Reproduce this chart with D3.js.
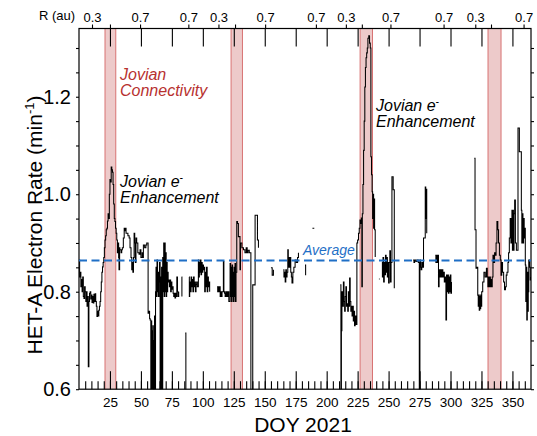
<!DOCTYPE html>
<html>
<head>
<meta charset="utf-8">
<script src="https://cdn.jsdelivr.net/npm/d3@7"></script>
<style>
  html, body { margin: 0; padding: 0; background: #fff; }
  svg { display: block; font-family: Helvetica, Arial, "Liberation Sans", sans-serif; }
</style>
</head>
<body>
<svg id="chart" width="537" height="436"></svg>
<script>
// HET-A electron count rate, PSP 2021 (DOY, min^-1); null marks a data gap.
const hetRate = [
  [0,0.865],[0.5,0.83],[1,0.84],[1.5,0.81],[2,0.825],[2.5,0.80],[3,0.83],[3.5,0.79],[4,0.786],[4.5,0.81],
  [5,0.80],[5.5,0.78],[6,0.80],[6.5,0.77],[7,0.79],[7.5,0.646],[8,0.78],[8.5,0.797],[9,0.80],[9.5,0.785],
  [10,0.793],[10.5,0.778],[11,0.79],[11.5,0.777],[12,0.795],[12.5,0.78],[13,0.796],[13.5,0.78],[14,0.77],[14.5,0.749],
  [15,0.76],[15.5,0.75],[16,0.762],[16.5,0.77],[17,0.78],[17.5,0.80],[18,0.82],[18.5,0.84],[19,0.851],[19.5,0.86],
  [20,0.87],[20.5,0.89],[21,0.906],[21.5,0.915],[22,0.927],[22.5,0.93],[23,0.945],[23.5,0.96],[24,0.95],[24.5,1.00],
  [25,1.03],[25.5,1.025],[26,1.056],[26.5,1.05],[27,1.045],[27.5,1.02],[28,0.98],[28.5,0.95],[29,0.944],[29.5,0.93],
  [30,0.92],[30.5,0.906],[31,0.88],[31.5,0.90],[32,0.87],[32.3,0.845],[32.8,0.89],[33,0.886],[34,0.88],[34.5,0.886],
  [35,0.89],[35.8,0.91],[36.5,0.93],[37,0.925],[37.5,0.93],[38,0.92],[38.5,0.92],[39.5,0.915],[40.5,0.91],[41.2,0.89],
  [42,0.87],[42.6,0.845],[43,0.86],[43.5,0.84],[44,0.87],[44.5,0.92],[45,0.90],[45.5,0.86],[46,0.91],[46.6,0.90],
  [47.5,0.88],[48.5,0.877],[49.3,0.886],[50,0.87],[51,0.88],[51.7,0.87],[52,0.896],[53,0.89],[54,0.896],[54.7,0.90],
  [55.8,0.756],[56.3,0.76],[57,0.745],[57.4,0.742],[58,0.55],[58.3,0.74],[58.7,0.55],[59,0.72],[59.3,0.55],[59.7,0.73],
  [60,0.55],[60.3,0.70],[60.7,0.55],[61,0.75],[61.4,0.55],[61.8,0.80],[62.2,0.85],[62.6,0.79],[63,0.865],[63.4,0.80],
  [63.8,0.84],[64.2,0.79],[64.6,0.82],[65,0.86],[65.5,0.55],[65.8,0.83],[66.2,0.55],[66.7,0.85],[67.2,0.55],[67.6,0.87],
  [68,0.80],[68.4,0.90],[68.8,0.79],[69.2,0.90],[69.6,0.80],[70,0.88],[70.4,0.79],[70.8,0.86],[71.2,0.80],[71.6,0.84],
  [72,0.82],[72.5,0.824],[73,0.81],[73.5,0.824],[74,0.80],[74.5,0.82],[75,0.805],[75.5,0.81],[76,0.797],[76.5,0.79],
  [77,0.797],[77.5,0.787],[78,0.797],[78.5,0.79],[79,0.83],[79.5,0.80],[80,0.79],[80.5,0.80],[81,null],
  [82.8,0.83],[83.1,0.79],[83.4,null],
  [85.8,0.715],[86.3,0.55],[86.6,null],
  [88.8,0.83],[89.1,0.79],[89.4,0.82],[90,0.80],[90.5,0.83],[91,0.81],[91.5,0.825],[92,0.80],[92.5,0.83],[93,0.81],
  [93.5,0.82],[94,0.80],[94.5,0.815],[95,0.82],[95.5,0.81],[96.4,0.865],[96.8,0.83],[97.2,0.86],[97.6,0.84],[98,0.865],
  [98.5,0.835],[99,0.86],[99.5,0.84],[100,0.855],[100.5,0.845],[101,0.85],[101.5,0.80],[102,0.84],[102.5,0.81],[103,0.85],
  [103.5,0.80],[104,0.83],[104.5,0.81],[105,0.82],[105.5,0.80],[106,null],
  [111.5,0.81],[112,0.80],[112.5,0.81],[113,0.80],[113.5,0.81],[114,0.79],[114.5,0.80],[115,0.79],[115.5,0.80],[116.6,0.862],
  [117,0.80],[117.5,0.797],[118,0.79],[118.5,0.80],[119,0.79],[119.5,0.80],[120,0.79],[120.5,0.80],[121,0.78],[122,0.858],
  [122.4,0.79],[122.8,0.85],[123.2,0.78],[123.6,0.855],[124,0.79],[124.4,0.84],[124.8,0.78],[125.2,0.85],[125.6,0.79],[126,0.858],
  [126.4,0.78],[126.8,0.84],[127.4,0.944],[128,0.94],[128.7,0.913],[130,0.845],[130.4,0.90],[131.5,0.89],[132.8,0.886],[134,0.88],
  [135,0.89],[135.8,0.88],[136.5,0.885],[137.5,0.88],[138.8,0.55],[140.3,0.814],[142.2,0.957],[144.1,0.906],[144.9,0.89],[146.5,null],
  [155,0.849],[156,0.834],[157,0.845],[158.3,null],
  [165,0.845],[165.5,0.83],[166,0.84],[166.5,0.82],[167,0.845],[167.5,0.83],[168,0.84],[168.6,0.886],[169,0.85],[169.5,0.87],
  [170,0.85],[170.5,0.87],[171,0.84],[171.5,0.83],[172,0.818],[172.7,0.84],[173.5,0.85],[174.5,0.865],[175.5,0.86],[176.5,0.87],
  [177.2,0.88],[177.8,null],
  [182.5,0.855],[183,0.834],[183.5,null],
  [188.5,0.93],[190,0.93],[190.5,null],
  [211,0.814],[211.5,0.55],[211.9,0.72],[212.3,0.80],[213,0.77],[213.5,0.82],[214,0.78],[214.5,0.76],[215,0.79],[215.5,0.81],
  [216,0.77],[216.5,0.775],[217,0.76],[217.5,0.80],[218,0.77],[218.5,0.828],[219,0.78],[219.5,0.76],[220,0.77],[220.5,0.75],
  [221,0.77],[221.5,0.74],[222,0.76],[222.5,0.73],[223,0.75],[223.8,0.733],[224.4,0.90],[225,0.906],[225.7,0.92],[226.3,0.93],
  [226.9,0.947],[227.5,0.94],[228,0.951],[228.4,0.81],[228.8,0.96],[229.3,1.02],[229.8,1.09],[230.3,1.15],[230.8,1.22],[231.3,1.26],
  [231.8,1.28],[232.3,1.29],[232.8,1.30],[233.3,1.32],[234,1.325],[234.6,1.31],[235.2,1.30],[235.7,1.077],[236.2,1.04],[236.7,1.005],
  [237.1,0.95],[237.5,1.00],[237.9,0.93],[238.3,0.99],[238.7,0.927],[239.2,0.871],[239.8,null],
  [242.2,0.826],[242.8,0.826],[243.1,null],
  [244.6,0.86],[245,0.83],[245.5,0.87],[246,0.82],[246.5,0.86],[247,0.835],[247.5,0.875],[248,0.84],[248.5,0.87],[249,0.83],
  [249.5,0.86],[250,0.818],[250.5,0.86],[251,0.884],[251.5,0.82],[252,0.86],[252.7,1.036],[253.7,1.009],[254.6,0.807],[255.2,null],
  [269.8,0.865],[270.5,0.86],[271,0.865],[272,0.862],[273,0.865],[274,0.86],[274.8,0.55],[275.3,0.865],[275.8,0.85],[276.3,0.845],
  [276.8,0.86],[277.5,0.85],[278.2,0.91],[279.6,1.015],[280,0.95],[280.4,1.01],[280.8,0.92],[282.3,null],
  [287.7,0.875],[288.2,0.86],[288.7,0.875],[289.2,0.86],[289.8,0.875],[290.3,0.81],[290.8,0.845],[291.5,0.83],[292,0.845],[292.6,0.83],
  [293.2,0.845],[293.8,0.83],[294.4,0.84],[295,0.82],[295.7,0.83],[296.3,0.742],[296.8,0.834],[297.3,0.80],[297.8,0.834],[298.3,0.797],
  [298.8,0.83],[299.3,0.80],[299.8,0.834],[300.3,0.797],[300.8,0.82],[301.2,null],
  [319.2,1.074],[319.8,0.927],[320.6,0.848],[321.4,0.85],[322,0.793],[322.4,0.77],[322.8,0.793],[323.2,0.762],[323.6,0.79],[324,0.765],
  [324.4,0.793],[324.8,0.77],[325.2,0.80],[326,0.82],[327,0.84],[328,0.83],[329,0.848],[329.7,0.83],[330.2,0.81],[330.7,0.83],
  [331.2,0.81],[331.7,0.83],[332.2,0.81],[332.7,0.825],[333.2,0.81],[333.7,0.83],[334.3,0.875],[335,0.86],[335.6,0.88],[336.2,0.875],
  [336.8,0.90],[337.5,0.944],[338.2,0.927],[338.8,0.90],[339.5,0.875],[340.2,0.865],[340.8,0.834],[341.4,0.86],[342,0.84],[342.9,0.82],
  [343.6,0.804],[344.4,0.81],[345,0.834],[345.6,0.84],[346.4,0.86],[346.9,0.88],[347.5,0.91],[348.2,0.95],[348.8,0.90],[349.6,0.967],
  [350,0.885],[350.4,0.967],[350.8,0.885],[351.3,0.96],[351.8,0.988],[352.4,0.90],[353.2,0.885],[354.5,1.136],[355.6,1.087],[357.2,0.967],
  [357.6,0.90],[358,0.96],[358.5,0.90],[359,0.95],[359.5,0.91],[360,0.93],[360.4,0.855],[360.8,0.78],[361.2,0.85],[361.6,0.742],
  [362,0.84],[362.4,0.76],[362.8,0.80],[363.2,0.865],[363.8,0.85],[364.4,0.824],[365,0.83]
];

// Jovian magnetic connectivity intervals (DOY)
const connectStart = [21, 122.8, 227, 330.3];
const connectEnd   = [29.7, 132, 237, 340.8];

// Mean rate over the year
const averageRate = 0.864;

// Heliocentric distance ticks along the top axis
const rTickDoy   = [10.5, 25, 49.3, 88.3, 112.6, 126, 150.3, 191.3, 215.5, 228.4, 251.5, 294.4, 320, 332.7, 359];
const rTickLabel = ["0.3", "", "0.7", "0.7", "0.3", "", "0.7", "0.7", "0.3", "", "0.7", "0.7", "0.3", "", "0.7"];

// Axis ticks
const doyMajor = [25, 50, 75, 100, 125, 150, 175, 200, 225, 250, 275, 300, 325, 350];
const doyMinor = d3.range(5, 365, 5);
const rateTicks = [0.6, 0.65, 0.7, 0.75, 0.8, 0.85, 0.9, 0.95, 1.0, 1.05, 1.1, 1.15, 1.2, 1.25, 1.3];
const rateTickLabels = [0.6, 0.8, 1.0, 1.2];

const svg = d3.select("#chart");
const plotLeft = 79, plotRight = 531, plotTop = 28.5, plotBottom = 389.2;

const x = d3.scaleLinear().domain([0, 365]).range([plotLeft, plotRight]);
const y = d3.scaleLinear().domain([0.6, 1.34]).range([plotBottom, plotTop]);

svg.append("defs").append("clipPath").attr("id", "plotClip")
  .append("rect").attr("x", plotLeft).attr("y", plotTop)
  .attr("width", plotRight - plotLeft).attr("height", plotBottom - plotTop);

// shaded connectivity bands
const bands = svg.append("g");
connectStart.forEach((s, i) => {
  bands.append("rect")
    .attr("x", x(s)).attr("y", plotTop)
    .attr("width", x(connectEnd[i]) - x(s)).attr("height", plotBottom - plotTop)
    .attr("fill", "#edcaca");
  [s, connectEnd[i]].forEach(v => {
    bands.append("line")
      .attr("x1", x(v)).attr("x2", x(v)).attr("y1", plotTop).attr("y2", plotBottom)
      .attr("stroke", "#d87373").attr("stroke-width", 1);
  });
});

function styleAxis(g) {
  g.select(".domain").remove();
  g.selectAll(".tick line").attr("stroke", "#000").attr("stroke-width", 1.1);
  g.selectAll(".tick text").attr("fill", "#000");
}

// bottom axis: 5-day minor ticks and 25-day labelled ticks, both pointing inward
svg.append("g").attr("transform", `translate(0,${plotBottom})`)
  .call(d3.axisBottom(x).tickValues(doyMinor).tickSizeInner(-8).tickSizeOuter(0).tickFormat(""))
  .call(styleAxis);
svg.append("g").attr("transform", `translate(0,${plotBottom})`)
  .call(d3.axisBottom(x).tickValues(doyMajor).tickSizeInner(-18).tickSizeOuter(0).tickPadding(8).tickFormat(d3.format("d")))
  .call(styleAxis)
  .selectAll("text").attr("font-size", 13.5);

// top axis: 25-day ticks inward, heliocentric distance ticks outward
svg.append("g").attr("transform", `translate(0,${plotTop})`)
  .call(d3.axisTop(x).tickValues(doyMajor).tickSizeInner(-18).tickSizeOuter(0).tickFormat(""))
  .call(styleAxis);
svg.append("g").attr("transform", `translate(0,${plotTop})`)
  .call(d3.axisTop(x).tickValues(rTickDoy).tickSizeInner(4).tickSizeOuter(0).tickPadding(3)
        .tickFormat((d, i) => rTickLabel[i]))
  .call(styleAxis)
  .selectAll("text").attr("font-size", 13);
svg.append("text").attr("x", 75).attr("y", 20).attr("text-anchor", "end")
  .attr("font-size", 13).text("R (au)");

// left and right rate axes
const isLabelled = d => rateTickLabels.some(v => Math.abs(v - d) < 1e-6);
svg.append("g").attr("transform", `translate(${plotLeft},0)`)
  .call(d3.axisLeft(y).tickValues(rateTicks).tickSizeInner(3).tickSizeOuter(0).tickPadding(5)
        .tickFormat(d => isLabelled(d) ? d3.format(".1f")(d) : ""))
  .call(styleAxis)
  .selectAll("text").attr("font-size", 20);
svg.append("g").attr("transform", `translate(${plotRight},0)`)
  .call(d3.axisRight(y).tickValues(rateTicks).tickSizeInner(3).tickSizeOuter(0).tickFormat(""))
  .call(styleAxis);

// plot frame
svg.append("rect").attr("x", plotLeft).attr("y", plotTop)
  .attr("width", plotRight - plotLeft).attr("height", plotBottom - plotTop)
  .attr("fill", "none").attr("stroke", "#000").attr("stroke-width", 1.2);

// rate trace
const line = d3.line()
  .defined(d => d[1] !== null)
  .x(d => x(d[0]))
  .y(d => y(d[1]))
  .curve(d3.curveStepAfter);
svg.append("path").datum(hetRate)
  .attr("clip-path", "url(#plotClip)")
  .attr("d", line)
  .attr("fill", "none").attr("stroke", "#000").attr("stroke-width", 1.05)
  .attr("stroke-linejoin", "miter");

// average level
svg.append("line")
  .attr("x1", plotLeft).attr("x2", plotRight)
  .attr("y1", y(averageRate)).attr("y2", y(averageRate))
  .attr("stroke", "#1f6fc6").attr("stroke-width", 2).attr("stroke-dasharray", "8,4.5");
svg.append("text").attr("x", 303).attr("y", 255)
  .attr("font-size", 14).attr("font-style", "italic").attr("fill", "#1f6fc6").text("Average");

// annotations
const red = "#b7312f";
svg.append("text").attr("x", 120).attr("y", 80).attr("font-size", 16).attr("font-style", "italic")
  .attr("fill", red).text("Jovian");
svg.append("text").attr("x", 120).attr("y", 96).attr("font-size", 16).attr("font-style", "italic")
  .attr("fill", red).text("Connectivity");

function enhancement(px, py) {
  const t = svg.append("text").attr("x", px).attr("y", py)
    .attr("font-size", 16).attr("font-style", "italic").attr("fill", "#000");
  t.append("tspan").text("Jovian e");
  t.append("tspan").attr("dy", -6).attr("font-size", 10).text("-");
  svg.append("text").attr("x", px).attr("y", py + 16)
    .attr("font-size", 16).attr("font-style", "italic").attr("fill", "#000").text("Enhancement");
}
enhancement(120, 187);
enhancement(376, 111);

// axis titles
const yTitle = svg.append("text")
  .attr("transform", "translate(42,225) rotate(-90)")
  .attr("text-anchor", "middle").attr("font-size", 21);
yTitle.append("tspan").text("HET-A Electron Rate (min");
yTitle.append("tspan").attr("dy", -8).attr("font-size", 13).text("-1");
yTitle.append("tspan").attr("dy", 8).text(")");

svg.append("text").attr("x", 303).attr("y", 432).attr("text-anchor", "middle")
  .attr("font-size", 21).text("DOY 2021");
</script>
</body>
</html>
